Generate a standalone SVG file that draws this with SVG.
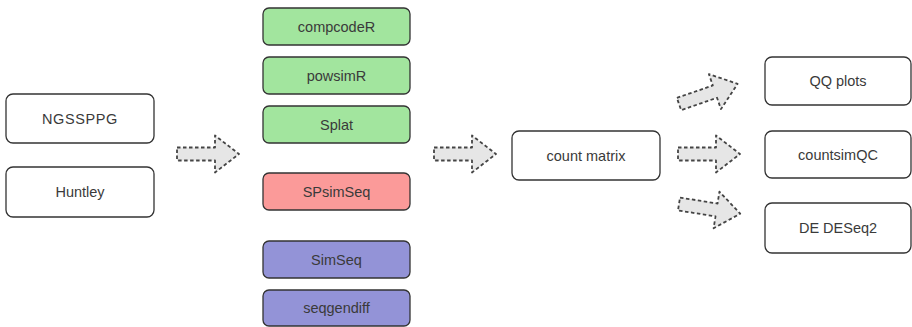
<svg xmlns="http://www.w3.org/2000/svg" width="912" height="327" viewBox="0 0 912 327">
<style>
.box{stroke:#333;stroke-width:1.3}
.w{fill:#fff}
.g{fill:#a2e59e}
.r{fill:#fb9a99}
.b{fill:#9393d7}
text{font-family:"Liberation Sans",Arial,sans-serif;font-size:14.5px;fill:#3a3a3a;text-anchor:middle;dominant-baseline:central}
.arr{fill:#e6e6e6;stroke:#444;stroke-width:1.8;stroke-dasharray:3.5 2.5;stroke-linejoin:round}
</style>
<defs>
<path id="fat" d="M0,-6.5 L38,-6.5 L38,-18.5 L62,0 L38,18.5 L38,6.5 L0,6.5 Z"/>
</defs>
<rect width="912" height="327" fill="#fff"/>
<g id="connectors">
<use href="#fat" class="arr" transform="translate(177,154)"/>
<use href="#fat" class="arr" transform="translate(434,154)"/>
<use href="#fat" class="arr" transform="translate(679,104) rotate(-19)"/>
<use href="#fat" class="arr" transform="translate(678,154)"/>
<use href="#fat" class="arr" transform="translate(679,204) rotate(9)"/>
</g>
<g id="ngssppg"><rect class="box w" x="6" y="94" width="148" height="49" rx="7"/><text x="80" y="118.5" letter-spacing="0.6">NGSSPPG</text></g>
<g id="huntley"><rect class="box w" x="6" y="167" width="148" height="50" rx="7"/><text x="80" y="192">Huntley</text></g>
<g id="compcodeR"><rect class="box g" x="263" y="8" width="147" height="37" rx="6"/><text x="336.5" y="26.5">compcodeR</text></g>
<g id="powsimR"><rect class="box g" x="263" y="57" width="147" height="37" rx="6"/><text x="336.5" y="75.5">powsimR</text></g>
<g id="splat"><rect class="box g" x="263" y="106" width="147" height="37" rx="6"/><text x="336.5" y="124.5">Splat</text></g>
<g id="spsimseq"><rect class="box r" x="263" y="173" width="147" height="37" rx="6"/><text x="336.5" y="191.5">SPsimSeq</text></g>
<g id="simseq"><rect class="box b" x="263" y="241" width="147" height="37" rx="6"/><text x="336.5" y="259.5">SimSeq</text></g>
<g id="seqgendiff"><rect class="box b" x="263" y="290" width="147" height="36" rx="6"/><text x="336.5" y="308">seqgendiff</text></g>
<g id="countmatrix"><rect class="box w" x="512" y="131" width="148" height="49" rx="7"/><text x="586" y="155.5">count matrix</text></g>
<g id="qqplots"><rect class="box w" x="765" y="57" width="146" height="48" rx="7"/><text x="838" y="81">QQ plots</text></g>
<g id="countsimqc"><rect class="box w" x="765" y="131" width="146" height="47" rx="7"/><text x="838" y="154.5">countsimQC</text></g>
<g id="deseq2"><rect class="box w" x="765" y="203" width="146" height="50" rx="7"/><text x="838" y="228">DE DESeq2</text></g>
</svg>
